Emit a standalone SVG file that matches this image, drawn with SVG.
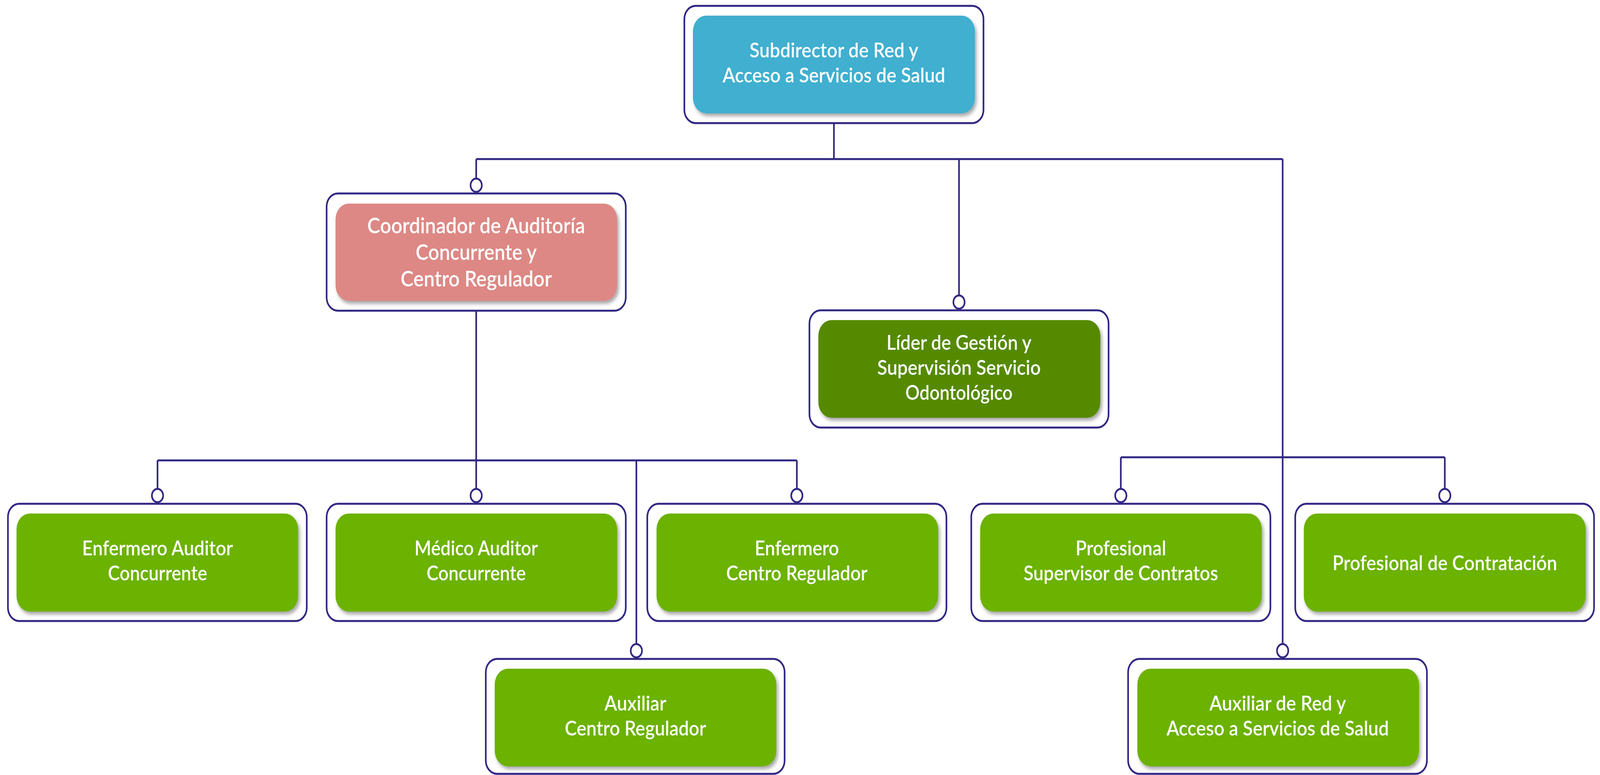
<svg xmlns="http://www.w3.org/2000/svg" width="4835" height="1983" viewBox="0 0 4835 1983" preserveAspectRatio="none" style="width:100%;height:100%">
<defs>
<filter id="sh" x="-5%" y="-5%" width="112%" height="120%">
<feDropShadow dx="5" dy="7" stdDeviation="5" flood-color="#000" flood-opacity="0.35"/>
</filter>
</defs>
<style>
.outer{fill:#fff;stroke:#312783;stroke-width:5}
.inner{filter:url(#sh)}
.blue{fill:#3fafd0}
.pink{fill:#dd8885}
.dgreen{fill:#548a00}
.green{fill:#6cb200}
.t{font-family:Lato,"Open Sans","Liberation Sans",sans-serif;font-size:52px;font-weight:600;fill:#fff;text-anchor:middle;font-variant-ligatures:none;font-feature-settings:"liga" 0,"dlig" 0,"clig" 0}
.tb{font-size:55px}
.ln{fill:none;stroke:#312783;stroke-width:5}
.dot{fill:#fff;stroke:#312783;stroke-width:5}
</style>
<rect width="4835" height="1983" fill="#fff"/>

<g id="connectors">
<path class="ln" d="M2520 316V407M1439 407H3876M1439 407V457M2898 407V756M3876 407V1648"/>
<path class="ln" d="M1439 795V1251M476 1178H2408M476 1178V1251M2408 1178V1251M1923 1178V1648"/>
<path class="ln" d="M3387 1170H4366M3387 1170V1251M4366 1170V1251"/>
<circle class="dot" cx="1439" cy="474" r="17"/>
<circle class="dot" cx="2898" cy="773" r="17"/>
<circle class="dot" cx="3876" cy="1665" r="17"/>
<circle class="dot" cx="476" cy="1268" r="17"/>
<circle class="dot" cx="1439" cy="1268" r="17"/>
<circle class="dot" cx="2408" cy="1268" r="17"/>
<circle class="dot" cx="1923" cy="1665" r="17"/>
<circle class="dot" cx="3387" cy="1268" r="17"/>
<circle class="dot" cx="4366" cy="1268" r="17"/>
</g>

<g id="subdirector">
<rect class="outer" x="2068" y="15" width="904" height="300" rx="34"/>
<rect class="inner blue" x="2094" y="40" width="852" height="250" rx="40"/>
<text class="t" x="2520" y="147" textLength="510" lengthAdjust="spacingAndGlyphs">Subdirector de Red y</text>
<text class="t" x="2520" y="211" textLength="673" lengthAdjust="spacingAndGlyphs">Acceso a Servicios de Salud</text>
</g>

<g id="coordinador">
<rect class="outer" x="987" y="495" width="904" height="300" rx="34"/>
<rect class="inner pink" x="1014" y="521" width="851" height="249" rx="40"/>
<text class="t tb" x="1439" y="597" textLength="658" lengthAdjust="spacingAndGlyphs">Coordinador de Auditoría</text>
<text class="t tb" x="1439" y="665" textLength="366" lengthAdjust="spacingAndGlyphs">Concurrente y</text>
<text class="t tb" x="1439" y="733" textLength="457" lengthAdjust="spacingAndGlyphs">Centro Regulador</text>
</g>

<g id="lider">
<rect class="outer" x="2446" y="794" width="904" height="300" rx="34"/>
<rect class="inner dgreen" x="2473" y="819" width="852" height="250" rx="40"/>
<text class="t" x="2898" y="895" textLength="438" lengthAdjust="spacingAndGlyphs">Líder de Gestión y</text>
<text class="t" x="2898" y="959" textLength="494" lengthAdjust="spacingAndGlyphs">Supervisión Servicio</text>
<text class="t" x="2898" y="1023" textLength="324" lengthAdjust="spacingAndGlyphs">Odontológico</text>
</g>

<g id="enfermero-auditor">
<rect class="outer" x="24" y="1289" width="903" height="300" rx="34"/>
<rect class="inner green" x="50" y="1314" width="851" height="251" rx="40"/>
<text class="t" x="476" y="1421" textLength="456" lengthAdjust="spacingAndGlyphs">Enfermero Auditor</text>
<text class="t" x="476" y="1485" textLength="300" lengthAdjust="spacingAndGlyphs">Concurrente</text>
</g>

<g id="medico-auditor">
<rect class="outer" x="987" y="1289" width="904" height="300" rx="34"/>
<rect class="inner green" x="1014" y="1314" width="851" height="251" rx="40"/>
<text class="t" x="1439" y="1421" textLength="373" lengthAdjust="spacingAndGlyphs">Médico Auditor</text>
<text class="t" x="1439" y="1485" textLength="300" lengthAdjust="spacingAndGlyphs">Concurrente</text>
</g>

<g id="enfermero-centro">
<rect class="outer" x="1956" y="1289" width="904" height="300" rx="34"/>
<rect class="inner green" x="1984" y="1314" width="851" height="251" rx="40"/>
<text class="t" x="2408" y="1421" textLength="255" lengthAdjust="spacingAndGlyphs">Enfermero</text>
<text class="t" x="2408" y="1485" textLength="427" lengthAdjust="spacingAndGlyphs">Centro Regulador</text>
</g>

<g id="profesional-supervisor">
<rect class="outer" x="2935" y="1289" width="904" height="300" rx="34"/>
<rect class="inner green" x="2962" y="1314" width="851" height="251" rx="40"/>
<text class="t" x="3387" y="1421" textLength="274" lengthAdjust="spacingAndGlyphs">Profesional</text>
<text class="t" x="3387" y="1485" textLength="588" lengthAdjust="spacingAndGlyphs">Supervisor de Contratos</text>
</g>

<g id="profesional-contratacion">
<rect class="outer" x="3914" y="1289" width="903" height="300" rx="34"/>
<rect class="inner green" x="3940" y="1314" width="852" height="251" rx="40"/>
<text class="t" x="4366" y="1459" textLength="679" lengthAdjust="spacingAndGlyphs">Profesional de Contratación</text>
</g>

<g id="auxiliar-centro">
<rect class="outer" x="1468" y="1686" width="903" height="294" rx="34"/>
<rect class="inner green" x="1495" y="1711" width="851" height="250" rx="40"/>
<text class="t" x="1920" y="1818" textLength="187" lengthAdjust="spacingAndGlyphs">Auxiliar</text>
<text class="t" x="1920" y="1882" textLength="427" lengthAdjust="spacingAndGlyphs">Centro Regulador</text>
</g>

<g id="auxiliar-red">
<rect class="outer" x="3409" y="1686" width="903" height="294" rx="34"/>
<rect class="inner green" x="3437" y="1711" width="851" height="250" rx="40"/>
<text class="t" x="3861" y="1818" textLength="413" lengthAdjust="spacingAndGlyphs">Auxiliar de Red y</text>
<text class="t" x="3861" y="1882" textLength="672" lengthAdjust="spacingAndGlyphs">Acceso a Servicios de Salud</text>
</g>
</svg>
